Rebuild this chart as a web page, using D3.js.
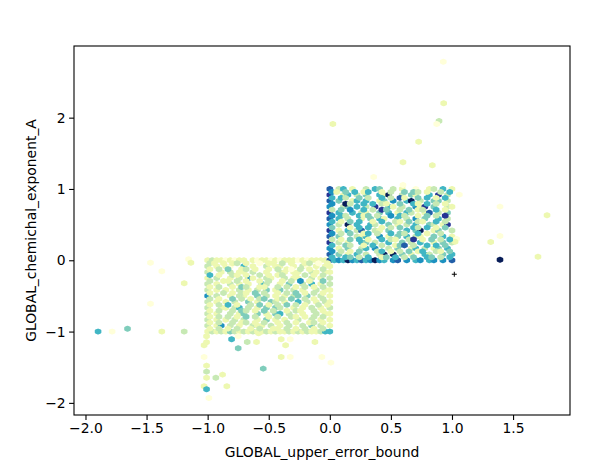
<!DOCTYPE html>
<html>
<head>
<meta charset="utf-8">
<script src="https://cdn.jsdelivr.net/npm/d3@7"></script>
<style>
  body { margin: 0; background: white; }
  text { font-family: "DejaVu Sans", sans-serif; }
</style>
</head>
<body>
<div id="figure"></div>
<script>
// tick labels
var xTicks = [-2.0, -1.5, -1.0, -0.5, 0.0, 0.5, 1.0, 1.5]
var yTicks = [-2, -1, 0, 1, 2]

// hexbin cells inside the two dense blocks, one string per hex row (top row first)
// even rows sit on the main lattice (28 cells), odd rows on the shifted one (27 cells)
// "." = empty bin, 1..9 = count level
var upperBlock = [
  "7.35 .2.. 3.54 ..3. 2..1 ..23 .5.2",
  "62.4 .5.2 5..2 .3.. 4.43 .2.. 3.5",
  "8..2 5.3. 4..5 29.. 3.42 ..5. 8.3.",
  "5.53 ..4. 3..5 .3.7 2..4 .5.2 .5.",
  "7.4. .25. 5..2 4.6. .59. 3..4 4.3.",
  "6..9 3..5 .5.3 2..4 ..52 .5.3 .2.",
  "6..3 4.5. 3.8. .52. 3..6 28.4 ..32",
  "3.4. 6..5 .3.8 4..3 .4.2 3..5 .2.",
  "8.5. .5.3 2..4 .5.2 .53. .27. 3.4.",
  "6.53 ..52 4.3. .6.5 3..2 .4.3 .8.",
  "7.5. 3..2 .4.5 2..5 .3.6 .4.. 5.3.",
  "5.2. 4.5. .2.5 ..32 .4.3 2..5 .3.",
  "6.3. 9.5. .53. .4.2 .3.5 ..43 .28.",
  "4... 2.5. 5..2 .3.4 ..53 .5.2 .4.",
  "8.2. 5.37 ..32 .4.. .5.4 9..2 4..3",
  "6.3. 4..2 5.3. .5.4 3..5 .2.. 3.",
  "7.4. ..32 5..6 .2.4 .5.3 2..4 .5.2",
  "3.2. 4.5. 2..5 .32. .38. 2.4. 3.5",
  "8.3. 2..5 4.3. .5.. 4.3. 5..2 .4.3",
  "5..4 3..2 .5.3 ..24 7.3. .5.5 .4.",
  "6.2. 4..3 5.6. .3.4 ..25 .3.2 4.5.",
  "6.3. 2.4. ..35 .2.3 .4.2 5..3 2.4",
  "7.4. 2.5. 3..3 9.9. 4.2. .53. .4.5",
  "5..5 4.3. 5..2 4.5. 3.4. .54. 3.5",
  "7565 9657 5696 5.67 .6.5 6.56 .6.7"
]
var lowerBlock = [
  "2322 1212 2.21 2212 1222 1212 2221",
  "32.2 .23. 2..1 .22. 3.2. .23. 1.2",
  "3.2. 21.. 5.2. .3.2 2..2 .31. 2.22",
  "2.3. 4..2 3.2. .2.3 .21. 3.2. .3",
  "3..2 .3.2 2.3. .2.. 32.2 2..3 2.22",
  "5.2. .32. 2..3 .2.2 3..2 .3.2 .3",
  "2.3. .2.3 .62. .32. .3.2 2..3 .2.3",
  "3..2 2.3. 2..2 .3.. 2.3. 6.2. .4",
  "3.2. .3.2 .2.. 53.. 2.4. .3.5 .2.3",
  "2.3. .2.4 3..2 2..3 .3.2 .3.2 .3",
  "3.2. 2..3 .2.3 .4.2 4..3 .2.. 3.22",
  "2..3 .2.3 2.4. 3..2 .3.4 .2.3 .2",
  "6.3. .2.3 2..4 .3.2 .2.3 4.4. .3.2",
  "3.2. .4.3 .2.3 4..2 3.4. .3.2 .3",
  "3.2. 2.3. .4.2 ..43 .2.. 5.3. 2.32",
  "2.3. 5.2. .3.4 .2.3 .4.3 .2.. 3.2",
  "3..2 2.35 .3.2 .4.4 3..2 .2.3 .2.3",
  "2.3. .3.4 3.2. 4.3. .2.3 2..3 .2",
  "3.2. .3.2 4..4 .2.4 5.3. .2.. 3.22",
  "2.3. 3.2. 4.3. .2.3 ..32 .2.3 .3",
  "3.2. 2.3. 3..2 .4.2 .2.. 3..3 .2.2",
  "2.3. .3.2 3.2. 3..2 .3.2 ..23 .2",
  "3.26 .3.2 ..32 2.3. 2.3. .3.4 .3.2",
  "2.3. 2.3. .2.3 ..22 .3.2 .3.2 .3",
  "2323 2432 3232 2323 2232 3232 2355"
]

// scattered bins outside the blocks: x, y, count level
var strayX = [0.929, 0.932, 0.894, 0.875, 0.025, 0.727, 0.599, 0.839, 0.359, 0.599,
              1.060, 1.393, 1.778, 1.038, 1.025, 1.317, 1.393, 1.393, 1.704,
              -1.897, -1.782, -1.656, -1.468, -1.375, -1.468, -1.375, -1.192, -1.192, -1.156, -1.137,
              -0.804, -0.750, -0.676, -0.600, -0.750, -0.583, -1.009, -1.009, -1.029, -1.029,
              -1.009, -1.009, -1.009, -0.933, -0.878, -1.029, -1.009, -0.843, -0.990, -0.545,
              -0.398, -0.324, -0.362, -0.398, -0.324, -0.122, -0.065, 0.009]
var strayY = [2.784, 2.202, 1.954, 1.912, 1.912, 1.663, 1.374, 1.332, 1.168, 1.056,
              0.920, 0.752, 0.631, 0.299, 0.260, 0.257, 0.341, 0.008, 0.050,
              -1.000, -1.000, -0.960, -0.034, -0.154, -0.609, -1.000, -0.323, -1.000, 0.014, -0.034,
              -1.108, -1.234, -1.146, -1.146, -1.066, -1.024, -1.066, -1.150, -1.192, -1.356,
              -1.478, -1.562, -1.647, -1.647, -1.604, -1.767, -1.809, -1.767, -1.931, -1.520,
              -1.108, -1.108, -1.192, -1.356, -1.356, -1.146, -1.356, -1.436]
var strayLevel = [1, 2, 3, 1, 2, 2, 2, 2, 1, 1,
                  1, 1, 2, 1, 2, 2, 1, 9, 2,
                  5, 1, 4, 1, 1, 1, 2, 2, 3, 1, 2,
                  5, 4, 3, 2, 1, 2, 2, 2, 2, 1,
                  2, 3, 2, 3, 2, 2, 5, 2, 1, 4,
                  2, 1, 2, 2, 1, 2, 1, 1]

// the lone black cross marker
var crossX = [1.019]
var crossY = [-0.196]

var width = 603, height = 468
var margin = {top: 46, right: 33, bottom: 53, left: 74}

var svg = d3.select("#figure").append("svg")
  .attr("width", width)
  .attr("height", height)

var x = d3.scaleLinear().domain([-2.094, 1.966]).range([margin.left, width - margin.right])
var y = d3.scaleLinear().domain([-2.17, 3.005]).range([height - margin.bottom, margin.top])

// hex lattice spacing (data units)
var sx = 1 / 27, sy = 1 / 12

var colors = d3.schemeYlGnBu[9]

// turn a block of row strings into cells
function readBlock(rows, x0, yTop) {
  var cells = []
  rows.forEach(function(row, r) {
    var chars = row.replace(/ /g, "").split("")
    var shift = (r % 2 == 1) ? 0.5 : 0
    chars.forEach(function(c, i) {
      if (c != ".") {
        cells.push({x: x0 + (i + shift) * sx, y: yTop - r * sy / 2, level: +c, lattice: r % 2})
      }
    })
  })
  return cells
}

var cells = readBlock(lowerBlock, -1, 0).concat(readBlock(upperBlock, 0, 1))
strayX.forEach(function(d, i) {
  cells.push({x: d, y: strayY[i], level: strayLevel[i], lattice: 0})
})
// main lattice first, shifted lattice on top (matplotlib order)
cells.sort(function(a, b) { return a.lattice - b.lattice })

// hexagon in pixels, pointy top
var hw = (x(sx) - x(0)) / 2
var hh = (y(0) - y(sy)) / 3
var hexPath = "M" + hw + "," + (-hh / 2) + "L" + hw + "," + (hh / 2) + "L0," + hh +
              "L" + (-hw) + "," + (hh / 2) + "L" + (-hw) + "," + (-hh / 2) + "L0," + (-hh) + "Z"

var plot = svg.append("g").attr("id", "hexGroup")

plot.selectAll("path")
  .data(cells)
  .enter()
  .append("path")
  .attr("d", hexPath)
  .attr("transform", function(d) { return "translate(" + x(d.x) + "," + y(d.y) + ")" })
  .style("fill", function(d) { return colors[d.level - 1] })
  .style("stroke", function(d) { return colors[d.level - 1] })
  .style("stroke-width", 2.1)
  .style("stroke-linejoin", "round")

// cross marker
crossX.forEach(function(d, i) {
  var cx = x(d), cy = y(crossY[i])
  plot.append("path")
    .attr("d", "M" + (cx - 2.5) + "," + cy + "H" + (cx + 2.5) + "M" + cx + "," + (cy - 2.5) + "V" + (cy + 2.5))
    .style("stroke", "black")
    .style("stroke-width", 1)
})

// axes
var xAxis = d3.axisBottom(x)
  .tickValues(xTicks)
  .tickFormat(d3.format(".1f"))
  .tickSize(4.9)
  .tickPadding(3.5)
  .tickSizeOuter(0)

var yAxis = d3.axisLeft(y)
  .tickValues(yTicks)
  .tickFormat(d3.format("d"))
  .tickSize(4.9)
  .tickPadding(3.5)
  .tickSizeOuter(0)

var gx = svg.append("g")
  .attr("transform", "translate(0," + (height - margin.bottom) + ")")
  .call(xAxis)
var gy = svg.append("g")
  .attr("transform", "translate(" + margin.left + ",0)")
  .call(yAxis)

svg.selectAll(".domain").remove()
svg.selectAll(".tick line").style("stroke", "black").style("stroke-width", 1.1)
svg.selectAll(".tick text")
  .style("font-size", "13.9px")
  .style("fill", "black")
  .style("font-family", "DejaVu Sans")

// frame
svg.append("rect")
  .attr("x", margin.left)
  .attr("y", margin.top)
  .attr("width", width - margin.left - margin.right)
  .attr("height", height - margin.top - margin.bottom)
  .style("fill", "none")
  .style("stroke", "black")
  .style("stroke-width", 1.1)

// axis titles
svg.append("text")
  .text("GLOBAL_upper_error_bound")
  .attr("x", (margin.left + width - margin.right) / 2)
  .attr("y", 457)
  .attr("text-anchor", "middle")
  .style("font-size", "13.9px")

svg.append("text")
  .text("GLOBAL_chemichal_exponent_A")
  .attr("transform", "translate(36," + ((margin.top + height - margin.bottom) / 2) + ") rotate(-90)")
  .attr("text-anchor", "middle")
  .style("font-size", "13.9px")
</script>
</body>
</html>
